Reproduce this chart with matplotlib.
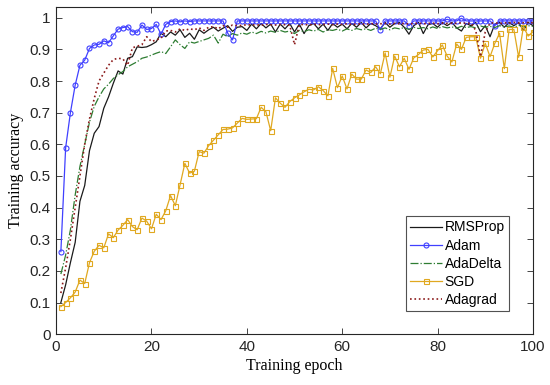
import numpy as np
import matplotlib
matplotlib.use("Agg")
import matplotlib.pyplot as plt

epochs = np.arange(1, 101)

rmsprop = [
    0.100, 0.156, 0.226, 0.290, 0.420, 0.470, 0.580, 0.635, 0.656, 0.714,
    0.750, 0.793, 0.832, 0.822, 0.872, 0.877, 0.908, 0.906, 0.908, 0.915,
    0.924, 0.951, 0.940, 0.955, 0.945, 0.962, 0.938, 0.951, 0.932, 0.962,
    0.951, 0.962, 0.970, 0.958, 0.967, 0.975, 0.957, 0.970, 0.972, 0.960,
    0.980, 0.965, 0.982, 0.968, 0.980, 0.955, 0.980, 0.965, 0.982, 0.955,
    0.980, 0.950, 0.975, 0.982, 0.965, 0.980, 0.960, 0.982, 0.970, 0.980,
    0.965, 0.982, 0.970, 0.985, 0.968, 0.982, 0.975, 0.965, 0.985, 0.970,
    0.982, 0.985, 0.970, 0.948, 0.975, 0.985, 0.950, 0.978, 0.982, 0.970,
    0.985, 0.975, 0.985, 0.968, 0.958, 0.982, 0.975, 0.985, 0.956, 0.975,
    0.940, 0.980, 0.985, 0.970, 0.985, 0.975, 0.985, 0.960, 0.985, 0.975,
]

adam = [
    0.261, 0.589, 0.700, 0.787, 0.850, 0.866, 0.903, 0.914, 0.916, 0.927,
    0.921, 0.943, 0.964, 0.969, 0.972, 0.956, 0.954, 0.977, 0.963, 0.966,
    0.979, 0.948, 0.979, 0.988, 0.990, 0.987, 0.990, 0.988, 0.990, 0.990,
    0.990, 0.990, 0.990, 0.990, 0.990, 0.951, 0.930, 0.990, 0.990, 0.990,
    0.990, 0.990, 0.990, 0.990, 0.990, 0.990, 0.990, 0.990, 0.990, 0.990,
    0.990, 0.990, 0.990, 0.990, 0.990, 0.990, 0.990, 0.990, 0.990, 0.990,
    0.990, 0.990, 0.990, 0.990, 0.990, 0.990, 0.990, 0.962, 0.990, 0.990,
    0.990, 0.990, 0.990, 0.975, 0.990, 0.990, 0.990, 0.990, 0.990, 0.990,
    0.990, 0.995, 0.990, 0.990, 0.998, 0.990, 0.990, 0.990, 0.990, 0.990,
    0.990, 0.975, 0.990, 0.990, 0.990, 0.990, 0.990, 0.990, 0.990, 0.990,
]

adadelta = [
    0.190, 0.250, 0.330, 0.440, 0.530, 0.600, 0.670, 0.720, 0.750, 0.775,
    0.790, 0.808, 0.820, 0.830, 0.845, 0.853, 0.861, 0.872, 0.876, 0.882,
    0.888, 0.893, 0.887, 0.908, 0.930, 0.915, 0.903, 0.924, 0.920, 0.925,
    0.930, 0.935, 0.945, 0.920, 0.948, 0.940, 0.950, 0.945, 0.952, 0.948,
    0.955, 0.950, 0.957, 0.952, 0.958, 0.954, 0.960, 0.955, 0.958, 0.950,
    0.960, 0.956, 0.962, 0.958, 0.963, 0.955, 0.962, 0.960, 0.964, 0.958,
    0.965, 0.960, 0.966, 0.962, 0.965, 0.960, 0.967, 0.963, 0.968, 0.962,
    0.968, 0.965, 0.969, 0.963, 0.970, 0.966, 0.969, 0.965, 0.971, 0.966,
    0.972, 0.968, 0.971, 0.967, 0.973, 0.969, 0.972, 0.968, 0.974, 0.970,
    0.973, 0.969, 0.975, 0.971, 0.974, 0.970, 0.976, 0.972, 0.975, 0.973,
]

sgd = [
    0.087, 0.100, 0.115, 0.133, 0.171, 0.160, 0.226, 0.262, 0.281, 0.273,
    0.317, 0.305, 0.329, 0.344, 0.362, 0.340, 0.330, 0.367, 0.357, 0.333,
    0.379, 0.362, 0.390, 0.438, 0.406, 0.472, 0.540, 0.509, 0.515, 0.577,
    0.572, 0.596, 0.613, 0.630, 0.647, 0.648, 0.652, 0.667, 0.682, 0.679,
    0.680, 0.681, 0.717, 0.703, 0.643, 0.747, 0.730, 0.717, 0.735, 0.747,
    0.756, 0.766, 0.774, 0.772, 0.782, 0.770, 0.753, 0.840, 0.779, 0.816,
    0.775, 0.822, 0.806, 0.806, 0.835, 0.827, 0.845, 0.823, 0.889, 0.812,
    0.879, 0.845, 0.872, 0.837, 0.873, 0.884, 0.898, 0.900, 0.876, 0.896,
    0.914, 0.879, 0.860, 0.917, 0.900, 0.938, 0.940, 0.940, 0.872, 0.919,
    0.877, 0.919, 0.951, 0.839, 0.963, 0.963, 0.875, 0.972, 0.942, 0.956,
]

adagrad = [
    0.130, 0.210, 0.300, 0.400, 0.500, 0.600, 0.680, 0.745, 0.800, 0.825,
    0.850, 0.868, 0.872, 0.870, 0.850, 0.905, 0.910, 0.915, 0.940, 0.925,
    0.930, 0.935, 0.958, 0.960, 0.955, 0.965, 0.960, 0.965, 0.962, 0.968,
    0.960, 0.970, 0.972, 0.965, 0.975, 0.970, 0.977, 0.975, 0.976, 0.978,
    0.977, 0.978, 0.976, 0.979, 0.978, 0.977, 0.979, 0.978, 0.976, 0.915,
    0.978, 0.979, 0.977, 0.980, 0.978, 0.979, 0.980, 0.978, 0.980, 0.979,
    0.981, 0.979, 0.980, 0.981, 0.979, 0.982, 0.980, 0.981, 0.982, 0.980,
    0.982, 0.981, 0.982, 0.980, 0.982, 0.983, 0.981, 0.982, 0.983, 0.981,
    0.983, 0.982, 0.983, 0.982, 0.984, 0.982, 0.983, 0.960, 0.877, 0.955,
    0.983, 0.984, 0.982, 0.984, 0.983, 0.985, 0.983, 0.984, 0.985, 0.984,
]

xticks = [0, 20, 40, 60, 80, 100]
yticks = [0, 0.1, 0.2, 0.3, 0.4, 0.5, 0.6, 0.7, 0.8, 0.9, 1]
ytick_labels = ["0", "0.1", "0.2", "0.3", "0.4", "0.5", "0.6", "0.7", "0.8", "0.9", "1"]

plt.rcParams["font.family"] = ["Liberation Sans", "DejaVu Sans"]

fig = plt.figure(figsize=(5.5, 3.85), dpi=100)
ax = fig.add_axes([0.102, 0.132, 0.867, 0.849])

ax.plot(epochs, rmsprop, color="#1a1a1a", lw=0.9, label="RMSProp")
ax.plot(epochs, adam, color="#4040ff", lw=0.9, marker="o", ms=3.6,
        mfc="none", mew=0.8, label="Adam")
ax.plot(epochs, adadelta, color="#2e7d32", lw=0.9, ls="-.", label="AdaDelta")
ax.plot(epochs, sgd, color="#e0a820", lw=0.9, marker="s", ms=3.6,
        mfc="none", mew=0.8, label="SGD")
ax.plot(epochs, adagrad, color="#8b1a1a", lw=1.2, ls=":", label="Adagrad")

ax.set_xlim(0, 100)
ax.set_ylim(0, 1.033)
ax.set_xticks(xticks)
ax.set_xticklabels([str(t) for t in xticks])
ax.set_yticks(yticks)
ax.set_yticklabels(ytick_labels)
ax.tick_params(direction="in", top=True, right=True, length=4, width=0.6,
               labelsize=11, colors="#262626", pad=4)
for sp in ax.spines.values():
    sp.set_color("#262626")
    sp.set_linewidth(0.8)

ax.set_xlabel("Training epoch", family="Liberation Serif", fontsize=11.5, labelpad=3)
ax.set_ylabel("Training accuracy", family="Liberation Serif", fontsize=11.5, labelpad=4)

leg = ax.legend(loc="lower right", bbox_to_anchor=(0.95, 0.07), fontsize=10,
                fancybox=False, frameon=True, borderaxespad=0, handlelength=2.3,
                handletextpad=0.2, labelspacing=0.3, borderpad=0.3)
leg.get_frame().set_edgecolor("#262626")
leg.get_frame().set_linewidth(0.8)

fig.savefig("out.png", dpi=100)
